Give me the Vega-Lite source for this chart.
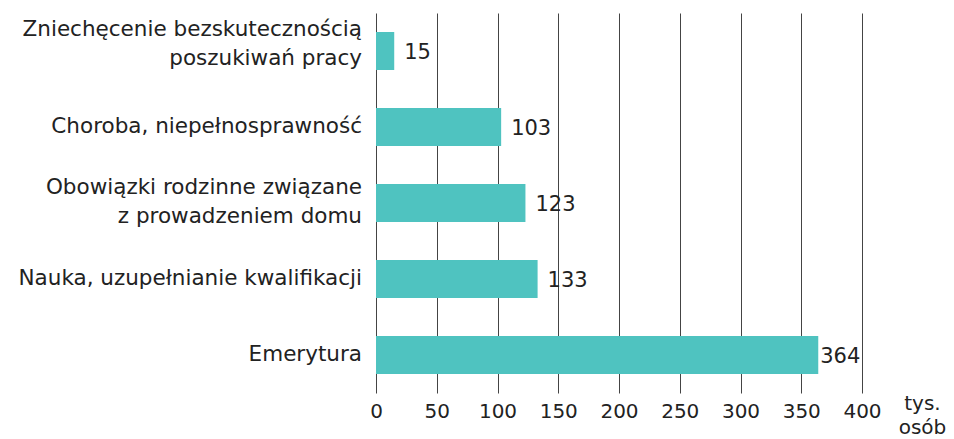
{
  "$schema": "https://vega.github.io/schema/vega-lite/v6.json",
  "width": 486,
  "height": 380,
  "autosize": {"type": "none"},
  "padding": {"left": 376, "top": 13, "right": 92, "bottom": 46},
  "config": {
    "view": {"stroke": null},
    "font": "DejaVu Sans"
  },
  "data": {
    "values": [
      {"kategoria": "Zniechęcenie bezskutecznością|poszukiwań pracy", "wiersze": 2, "wartosc": 15},
      {"kategoria": "Choroba, niepełnosprawność", "wiersze": 1, "wartosc": 103},
      {"kategoria": "Obowiązki rodzinne związane|z prowadzeniem domu", "wiersze": 2, "wartosc": 123},
      {"kategoria": "Nauka, uzupełnianie kwalifikacji", "wiersze": 1, "wartosc": 133},
      {"kategoria": "Emerytura", "wiersze": 1, "wartosc": 364}
    ]
  },
  "encoding": {
    "y": {
      "field": "kategoria",
      "type": "nominal",
      "sort": null,
      "scale": {"paddingInner": 0.5, "paddingOuter": 0.25},
      "axis": {
        "title": null,
        "domain": false,
        "ticks": false,
        "labels": false
      }
    },
    "x": {
      "field": "wartosc",
      "type": "quantitative",
      "scale": {"domain": [0, 400], "nice": false},
      "axis": {
        "values": [0, 50, 100, 150, 200, 250, 300, 350, 400],
        "domain": false,
        "ticks": false,
        "grid": true,
        "gridColor": "#444444",
        "gridOpacity": 1,
        "gridWidth": 1,
        "labelPadding": 8,
        "labelFontSize": 20,
        "labelColor": "#222222",
        "labelFlush": false,
        "title": ["tys.", "osób"],
        "titleFontSize": 20,
        "titleFontWeight": "normal",
        "titleColor": "#222222",
        "titleX": 546,
        "titleY": 0,
        "titleAlign": "center",
        "titleBaseline": "top",
        "titleLineHeight": 24
      }
    }
  },
  "layer": [
    {"mark": {"type": "bar", "color": "#4FC3C0"}},
    {
      "transform": [{"filter": "datum.wartosc < 300"}],
      "mark": {"type": "text", "align": "left", "baseline": "middle", "dx": 10, "dy": 2, "fontSize": 21, "color": "#222222"},
      "encoding": {"text": {"field": "wartosc", "type": "quantitative"}}
    },
    {
      "transform": [{"filter": "datum.wartosc >= 300"}],
      "mark": {"type": "text", "align": "left", "baseline": "middle", "dx": 2, "dy": 2, "fontSize": 21, "color": "#222222"},
      "encoding": {"text": {"field": "wartosc", "type": "quantitative"}}
    },
    {
      "transform": [{"filter": "datum.wiersze == 1"}],
      "mark": {"type": "text", "align": "right", "baseline": "middle", "dx": -14, "fontSize": 21.5, "color": "#222222"},
      "encoding": {"x": {"datum": 0}, "text": {"field": "kategoria"}}
    },
    {
      "transform": [{"filter": "indexof(datum.kategoria, 'Zniech') == 0"}],
      "mark": {"type": "text", "align": "right", "baseline": "middle", "dx": -14, "dy": -21, "lineBreak": "|", "lineHeight": 29, "fontSize": 21.5, "color": "#222222"},
      "encoding": {"x": {"datum": 0}, "text": {"field": "kategoria"}}
    },
    {
      "transform": [{"filter": "indexof(datum.kategoria, 'Obowi') == 0"}],
      "mark": {"type": "text", "align": "right", "baseline": "middle", "dx": -14, "dy": -15, "lineBreak": "|", "lineHeight": 29, "fontSize": 21.5, "color": "#222222"},
      "encoding": {"x": {"datum": 0}, "text": {"field": "kategoria"}}
    }
  ]
}
